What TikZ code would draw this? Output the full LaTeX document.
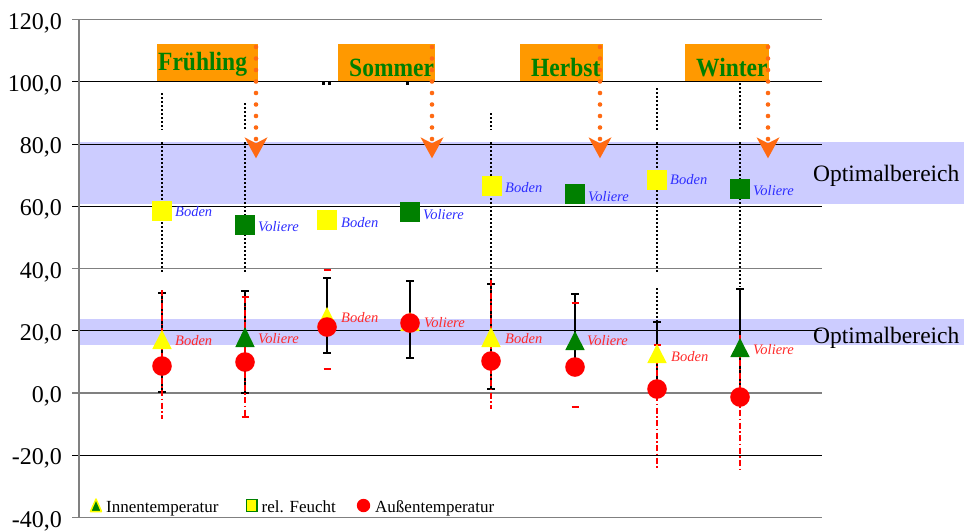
\documentclass[tikz,border=0pt]{standalone}
\usepackage{fontspec}
\setmainfont{Liberation Serif}
\definecolor{band}{HTML}{CCCCFF}
\definecolor{boxor}{HTML}{FF9900}
\definecolor{txtgreen}{HTML}{008000}
\definecolor{arrowor}{HTML}{FF6A13}
\definecolor{lblue}{HTML}{2E2EFF}
\definecolor{lred}{HTML}{FF2A2A}
\definecolor{mgreen}{HTML}{008000}
\definecolor{myellow}{HTML}{FFFF00}
\definecolor{mred}{HTML}{FF0000}
\definecolor{gridgray}{HTML}{808080}
\newcommand\mkSq[3]{\fill[#3] ({#1-10},{#2-10}) rectangle ({#1+10},{#2+10});}
\newcommand\mkTri[4]{\fill[#4] (#1,#2) -- ({#1-9.7},#3) -- ({#1+9.7},#3) -- cycle;}
\newcommand\mkDot[2]{\fill[mred] (#1,#2) circle[radius=9.8pt];}
\newcommand\mkCapB[2]{\draw[line width=1.8pt,black] ({#1-4},#2) -- ({#1+4},#2);}
\newcommand\mkCapR[2]{\draw[line width=2.6pt,mred] ({#1-3.5},#2) -- ({#1+3.5},#2);}
\newcommand\mkHead[1]{\fill[arrowor] ({#1-11.5},137.3) -- (#1,143.3) -- ({#1+11.5},137.3) -- (#1,158.3) -- cycle;}
\newcommand\tallsn[1]{\scalebox{1}[1.12]{#1}}
\begin{document}
\begin{tikzpicture}[x=1pt,y=-1pt,
  gridk/.style={line width=1pt,black},
  gridg/.style={line width=1.5pt,gridgray},
  hum/.style={line width=2pt,black,dash pattern=on 2pt off 2pt},
  tbar/.style={line width=1.6pt,black},
  obar/.style={line width=2.2pt,mred,dash pattern=on 6pt off 2.5pt on 1.5pt off 2.5pt},
  odots/.style={line width=4.6pt,arrowor,line cap=round,dash pattern=on 0pt off 11.5pt},
  seasonbox/.style={fill=boxor,inner sep=0,anchor=north west},
  seasontxt/.style={anchor=base west,inner sep=0,text=txtgreen,font=\fontsize{23.5}{24}\selectfont\bfseries},
  lbl/.style={anchor=base west,inner sep=0,font=\fontsize{14.5}{15}\selectfont\itshape},
  ticklbl/.style={anchor=base east,inner sep=0,font=\fontsize{24}{25}\selectfont},
  optlbl/.style={anchor=base west,inner sep=0,font=\fontsize{23.5}{24}\selectfont},
  leglbl/.style={anchor=base west,inner sep=0,font=\fontsize{17}{18}\selectfont}
]
\useasboundingbox (0,0) rectangle (964,531);
% bands
\fill[band] (79,142) rectangle (964,204);
\fill[band] (79,319) rectangle (964,345);
% grid
\foreach \v in {100,80,60,20,-20}{
  \pgfmathsetmacro\yy{393-3.1125*\v}
  \draw[gridk] (72,\yy) -- (822,\yy);
}
\foreach \v in {120,40,0,-40}{
  \pgfmathsetmacro\yy{393-3.1125*\v}
  \draw[gridg] (72,\yy) -- (822,\yy);
}
\foreach \v in {120,100,80,60,40,20,0,-20,-40}{
  \pgfmathsetmacro\yy{393-3.1125*\v+9.5}
  \node[ticklbl] (tick\v) at (62,\yy) {\v,0};
}
\draw[gridg] (79,19.5) -- (79,517.5);
% humidity error bars (dotted)
\draw[hum] (162,93) -- (162,130); \draw[hum] (162,142) -- (162,273);
\draw[hum] (245,103) -- (245,130); \draw[hum] (245,142) -- (245,273);
\draw[hum] (491,113) -- (491,130); \draw[hum] (491,142) -- (491,282);
\draw[hum] (657,88) -- (657,130); \draw[hum] (657,142) -- (657,273); \draw[hum] (657,288) -- (657,322);
\draw[hum] (740,83) -- (740,130); \draw[hum] (740,142) -- (740,287);
\fill (322,82) rectangle (324.5,84.5); \fill (328,82) rectangle (330.5,84.5); \fill (406,82) rectangle (408.5,84.5);
% inside temperature error bars
\foreach \x/\a/\b in {162/293/392,245/291/393,327/278/353,410/281/358,491/284/389}{
  \draw[tbar] (\x,\a) -- (\x,\b);
  \mkCapB{\x}{\a} \mkCapB{\x}{\b}
}
\foreach \x/\a/\b in {575/294/360,657/322/385,740/289/395}{
  \draw[tbar] (\x,\a) -- (\x,\b);
  \mkCapB{\x}{\a}
}
% outside temperature error bars
\draw[obar] (162,290) -- (162,419);
\draw[obar] (245,297) -- (245,417); \mkCapR{245}{297} \mkCapR{245}{417}
\mkCapR{327}{270} \mkCapR{327}{369}
\draw[obar] (491,280) -- (491,409);
\mkCapR{575}{303} \mkCapR{575}{407}
\draw[obar] (657,345) -- (657,470); \mkCapR{657}{345}
\draw[obar] (740,335) -- (740,470);
% humidity markers
\mkSq{162}{210.5}{myellow}
\mkSq{245}{224.5}{mgreen}
\mkSq{327}{220}{myellow}
\mkSq{410}{212}{mgreen}
\mkSq{492}{186}{myellow}
\mkSq{575}{193.5}{mgreen}
\mkSq{657}{180}{myellow}
\mkSq{740}{188.5}{mgreen}
% inside temperature markers
\mkTri{162}{330}{349}{myellow}
\mkTri{245}{327}{347}{mgreen}
\mkTri{327}{307}{326}{myellow}
\mkTri{410}{312}{331}{myellow}
\mkTri{491}{327}{347}{myellow}
\mkTri{575}{331}{350}{mgreen}
\mkTri{657}{344}{363}{myellow}
\mkTri{740}{338}{357}{mgreen}
% outside temperature markers
\mkDot{162}{366}
\mkDot{245}{362}
\mkDot{327}{327}
\mkDot{410}{323}
\mkDot{491}{361}
\mkDot{575}{367}
\mkDot{657}{389}
\mkDot{740}{397}
% blue labels
\node[lbl,text=lblue] (hb1) at (175,216) {Boden};
\node[lbl,text=lblue] (hv1) at (258,231.5) {Voliere};
\node[lbl,text=lblue] (hb2) at (341,227) {Boden};
\node[lbl,text=lblue] (hv2) at (423,219) {Voliere};
\node[lbl,text=lblue] (hb3) at (505,192) {Boden};
\node[lbl,text=lblue] (hv3) at (588,201) {Voliere};
\node[lbl,text=lblue] (hb4) at (670,184.5) {Boden};
\node[lbl,text=lblue] (hv4) at (753,195) {Voliere};
% red labels
\node[lbl,text=lred] (tb1) at (175,345) {Boden};
\node[lbl,text=lred] (tv1) at (258,343) {Voliere};
\node[lbl,text=lred] (tb2) at (341,322) {Boden};
\node[lbl,text=lred] (tv2) at (424,327) {Voliere};
\node[lbl,text=lred] (tb3) at (505,343) {Boden};
\node[lbl,text=lred] (tv3) at (587,345) {Voliere};
\node[lbl,text=lred] (tb4) at (671,361) {Boden};
\node[lbl,text=lred] (tv4) at (753,354) {Voliere};
% optimal range labels
\node[optlbl] (opt1) at (813,181) {Optimalbereich};
\node[optlbl] (opt2) at (813,343) {Optimalbereich};
% season boxes
\node[seasonbox,minimum width=101pt,minimum height=37pt] (sfr) at (157,44) {};
\node[seasonbox,minimum width=97pt,minimum height=37pt] (sso) at (338,44) {};
\node[seasonbox,minimum width=83pt,minimum height=37pt] (she) at (520,44) {};
\node[seasonbox,minimum width=84pt,minimum height=37pt] (swi) at (685,44) {};
\node[seasontxt] (tfr) at (158,70.5) {\tallsn{Frühling}};
\node[seasontxt] (tso) at (349,76.5) {\tallsn{Sommer}};
\node[seasontxt] (the) at (531,76.5) {\tallsn{Herbst}};
\node[seasontxt] (twi) at (696,76) {\tallsn{Winter}};
% arrows
\foreach \x in {256,432,600,768}{
  \draw[odots] (\x,47) -- (\x,139);
  \mkHead{\x}
}
% legend
\filldraw[fill=mgreen,draw=myellow,line width=1.5pt,line join=round] (96,499) -- (90.5,511.5) -- (101.5,511.5) -- cycle;
\node[leglbl] (l1) at (106,512) {Innentemperatur};
\filldraw[fill=myellow,draw=mgreen,line width=1.5pt] (246.5,499.5) rectangle (257,511.5);
\node[leglbl] (l2) at (261.5,512) {rel. Feucht};
\fill[mred] (363.5,505.5) circle[radius=6.7pt];
\node[leglbl] (l3) at (375,512) {Außentemperatur};
\end{tikzpicture}
\end{document}
